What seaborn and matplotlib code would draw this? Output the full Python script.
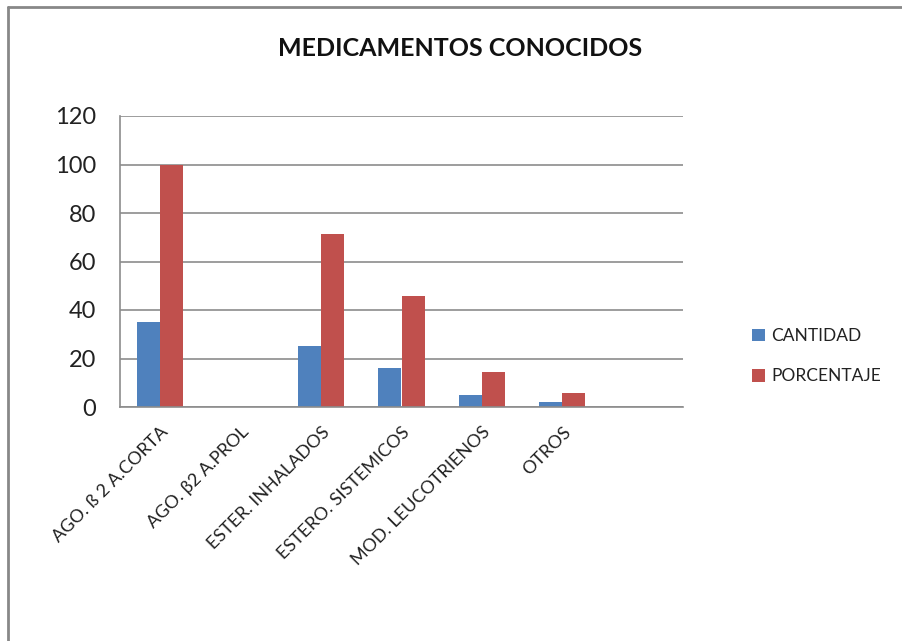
import matplotlib
matplotlib.use("Agg")
import matplotlib.pyplot as plt
import seaborn as sns
import pandas as pd
from matplotlib.lines import Line2D

categories = ["AGO. ß 2 A.CORTA", "AGO. β2 A.PROL", "ESTER. INHALADOS",
              "ESTERO. SISTEMICOS", "MOD. LEUCOTRIENOS", "OTROS", " "]
cantidad = [35, 0, 25, 16, 5, 2, 0]
porcentaje = [100, 0, 71.4, 45.7, 14.3, 5.7, 0]
series = ["CANTIDAD", "PORCENTAJE"]
colors = ["#4F81BD", "#C0504D"]
title = "MEDICAMENTOS CONOCIDOS"
yticks = [0, 20, 40, 60, 80, 100, 120]

df = pd.DataFrame({
    "cat": categories * 2,
    "serie": [series[0]] * len(categories) + [series[1]] * len(categories),
    "val": cantidad + porcentaje,
})

sns.set_theme(style="white")
plt.rcParams["font.family"] = ["Lato", "DejaVu Sans"]

fig = plt.figure(figsize=(9.02, 6.41), dpi=100)
ax = fig.add_axes([120/902, 1-407/641, (683-120)/902, (407-116)/641])

sns.barplot(data=df, x="cat", y="val", hue="serie", order=categories,
            hue_order=series, palette=colors, width=0.575, linewidth=0,
            saturation=1, ax=ax, errorbar=None)

ax.set_xlim(-0.5, len(categories) - 0.5)
ax.set_ylim(0, 120)
ax.set_yticks(yticks)
ax.set_yticklabels([str(t) for t in yticks], fontsize=17, color="#222222")
ax.set_xlabel("")
ax.set_ylabel("")
ax.yaxis.grid(True, color="#8C8C8C", linewidth=1.2)
ax.set_axisbelow(True)
ax.tick_params(axis="both", length=0)
ax.tick_params(axis="y", pad=17)
for lbl in ax.get_xticklabels():
    lbl.set_rotation(45)
    lbl.set_ha("right")
    lbl.set_rotation_mode("anchor")
    lbl.set_fontsize(13)
    lbl.set_color("#222222")
ax.tick_params(axis="x", pad=12)
for s in ["top", "right"]:
    ax.spines[s].set_visible(False)
for s in ["left", "bottom"]:
    ax.spines[s].set_color("#8C8C8C")
    ax.spines[s].set_linewidth(1.2)

leg = ax.legend(loc="center left", bbox_to_anchor=(1.095, 0.175), frameon=False,
                fontsize=12.5, handlelength=0.75, handleheight=0.75,
                handletextpad=0.35, labelspacing=1.4)
for t in leg.get_texts():
    t.set_color("#222222")

fig.text(0.51, 1-48/641, title, ha="center", va="center", fontsize=18,
         fontweight="bold", color="#111111")

# outer chart border (left and top)
fig.add_artist(Line2D([8/902, 8/902], [0, 1-7/641], transform=fig.transFigure,
                      color="#888888", linewidth=2))
fig.add_artist(Line2D([8/902, 1], [1-7/641, 1-7/641], transform=fig.transFigure,
                      color="#888888", linewidth=2))

fig.savefig("out.png", dpi=100, facecolor="white")
